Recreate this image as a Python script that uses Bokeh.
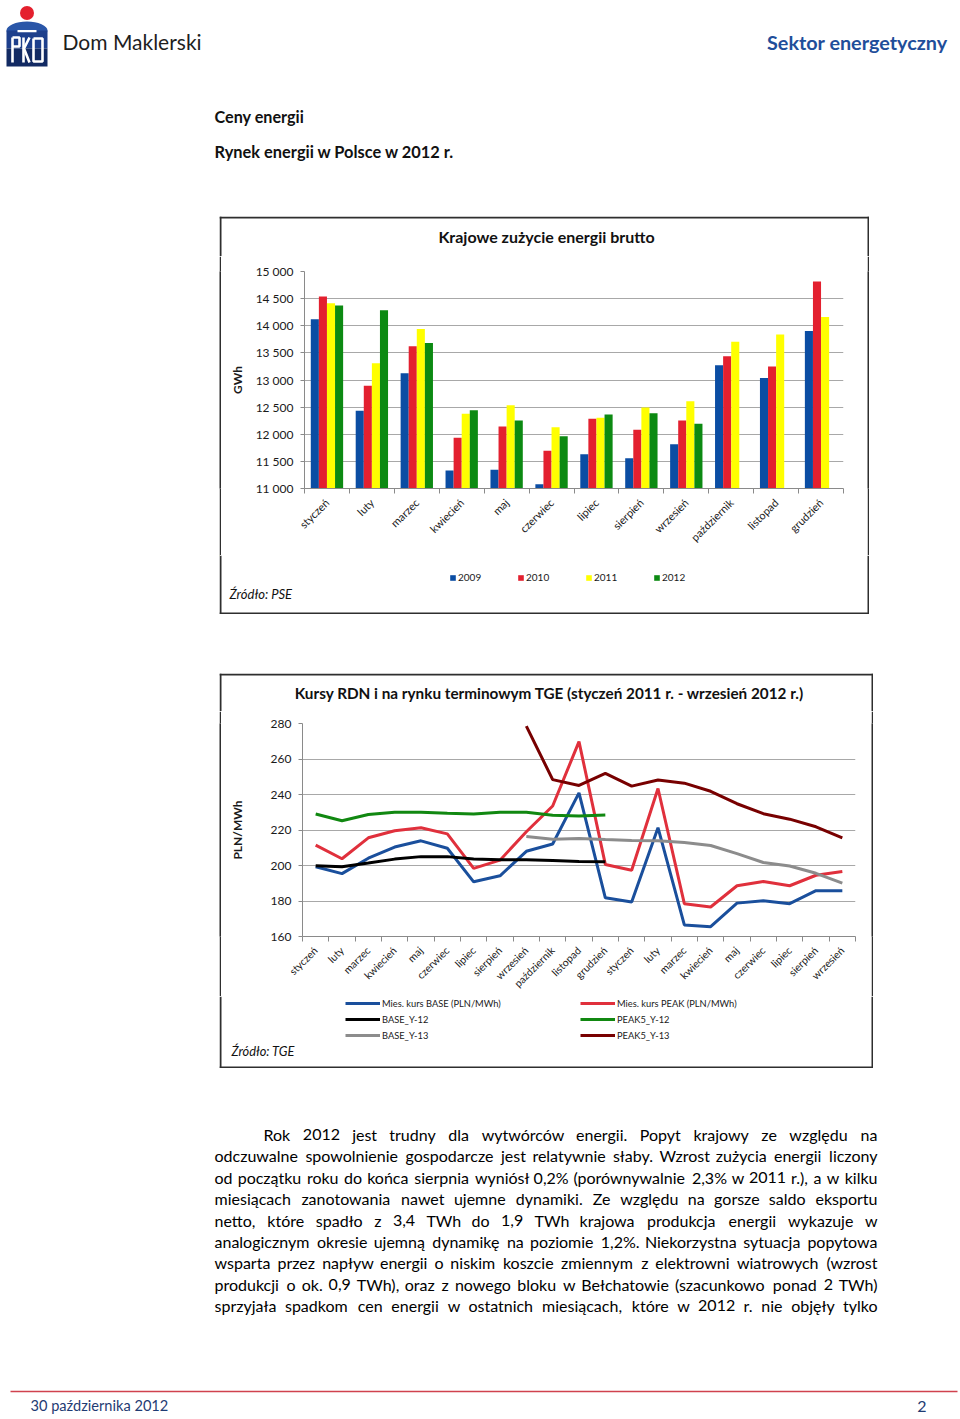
import math
from bokeh.plotting import figure
from bokeh.models import Range1d, FixedTicker, Legend, LegendItem, Spacer
from bokeh.layouts import column, row
from bokeh.core.properties import value
from bokeh.embed import file_html
from bokeh.resources import INLINE

FONT = "Lato"
BORDER = "#2e2e2e"

# ---------------- data: bar chart (GWh) ----------------
months = ["styczeń", "luty", "marzec", "kwiecień", "maj", "czerwiec", "lipiec",
          "sierpień", "wrzesień", "październik", "listopad", "grudzień"]
years = ["2009", "2010", "2011", "2012"]
gwh_2009 = [14120, 12431, 13125, 11332, 11344, 11080, 11633, 11559, 11817, 13273, 13039, 13905]
gwh_2010 = [14538, 12892, 13623, 11934, 12143, 11694, 12284, 12081, 12253, 13439, 13248, 14815]
gwh_2011 = [14415, 13310, 13942, 12376, 12536, 12130, 12302, 12493, 12609, 13703, 13838, 14163]
gwh_2012 = [14372, 14286, 13684, 12443, 12253, 11964, 12364, 12388, 12192]
bar_yticks = [11000, 11500, 12000, 12500, 13000, 13500, 14000, 14500, 15000]
bar_ytick_labels = ["11 000", "11 500", "12 000", "12 500", "13 000", "13 500", "14 000", "14 500", "15 000"]
bar_colors = ["#0b4da3", "#e3202f", "#ffff00", "#0c8a12"]

# ---------------- data: line chart (PLN/MWh) ----------------
line_periods = ["styczeń", "luty", "marzec", "kwiecień", "maj", "czerwiec", "lipiec", "sierpień",
                "wrzesień", "październik", "listopad", "grudzień", "styczeń", "luty", "marzec",
                "kwiecień", "maj", "czerwiec", "lipiec", "sierpień", "wrzesień"]
base_monthly = [199.3, 195.4, 204.1, 210.4, 213.9, 209.7, 190.8, 194.2, 208.0, 212.1, 240.9,
                181.8, 179.4, 221.3, 166.5, 165.5, 178.8, 180.1, 178.5, 185.8, 185.8]
peak_monthly = [211.5, 203.8, 215.6, 219.6, 221.3, 217.8, 198.4, 203.0, 219.0, 233.5, 269.8,
                200.6, 197.3, 243.4, 178.5, 176.6, 188.6, 191.0, 188.6, 194.5, 196.6]
base_y12 = [199.9, 199.3, 201.4, 203.6, 205.0, 205.0, 203.6, 203.2, 203.2, 202.8, 202.3, 202.1]
peak5_y12 = [229.0, 225.2, 228.7, 230.0, 230.0, 229.4, 229.0, 230.0, 230.0, 228.3, 227.9, 228.5]
base_y13 = [216.3, 214.8, 215.2, 214.6, 214.1, 213.9, 213.0, 211.3, 206.7, 201.7, 199.7, 195.6, 190.1]
peak5_y13 = [278.5, 248.4, 245.1, 251.9, 244.7, 248.2, 246.4, 241.8, 234.8, 229.2, 226.1, 221.8, 215.6]
y13_first_period = 8  # wrzesień 2011
line_names = ["Mies. kurs BASE (PLN/MWh)", "Mies. kurs PEAK (PLN/MWh)", "BASE_Y-12",
              "PEAK5_Y-12", "BASE_Y-13", "PEAK5_Y-13"]
line_colors = ["#1a4f9c", "#e0303c", "#000000", "#118811", "#8c8c8c", "#780000"]
line_yticks = [160, 180, 200, 220, 240, 260, 280]

paragraph = [
    "Rok 2012 jest trudny dla wytwórców energii. Popyt krajowy ze względu na",
    "odczuwalne spowolnienie gospodarcze jest relatywnie słaby. Wzrost zużycia energii liczony",
    "od początku roku do końca sierpnia wyniósł 0,2% (porównywalnie 2,3% w 2011 r.), a w kilku",
    "miesiącach zanotowania nawet ujemne dynamiki. Ze względu na gorsze saldo eksportu",
    "netto, które spadło z 3,4 TWh do 1,9 TWh krajowa produkcja energii wykazuje w",
    "analogicznym okresie ujemną dynamikę na poziomie 1,2%. Niekorzystna sytuacja popytowa",
    "wsparta przez napływ energii o niskim koszcie zmiennym z elektrowni wiatrowych (wzrost",
    "produkcji o ok. 0,9 TWh), oraz z nowego bloku w Bełchatowie (szacunkowo ponad 2 TWh)",
    "sprzyjała spadkom cen energii w ostatnich miesiącach, które w 2012 r. nie objęły tylko",
]

# approximate advance widths (em) used only to spread words for justified text
CW = {"a": .52, "b": .57, "c": .47, "d": .57, "e": .53, "f": .33, "g": .51, "h": .57, "i": .25,
      "j": .25, "k": .51, "l": .25, "m": .86, "n": .57, "o": .57, "p": .57, "q": .57, "r": .36,
      "s": .43, "t": .35, "u": .57, "v": .50, "w": .77, "x": .49, "y": .50, "z": .46,
      "ą": .52, "ę": .53, "ł": .27, "ó": .57, "ś": .43, "ż": .46, "ź": .46, "ć": .47, "ń": .57,
      "R": .62, "W": .95, "Z": .62, "N": .74, "T": .58, "B": .64, "P": .61,
      ",": .22, ".": .22, "%": .80, "(": .30, ")": .30, "-": .34}
for d in "0123456789":
    CW[d] = .58


def est_width(s, fs):
    return sum(CW.get(c, .6) for c in s) * fs


def base_fig(width, height, xr, yr, left=0, right=0, top=0, bottom=0):
    p = figure(width=width, height=height, x_range=xr, y_range=yr,
               output_backend="svg", toolbar_location=None,
               min_border_left=left, min_border_right=right,
               min_border_top=top, min_border_bottom=bottom)
    p.outline_line_color = None
    p.background_fill_color = "white"
    p.border_fill_color = "white"
    return p


def page_fig(width, height, x0, y0):
    p = base_fig(width, height, Range1d(x0, x0 + width), Range1d(y0 + height, y0))
    p.axis.visible = False
    p.grid.visible = False
    return p


def border_strip(width, height):
    p = base_fig(width, height, Range1d(0, 1), Range1d(0, 1))
    p.axis.visible = False
    p.grid.visible = False
    p.background_fill_color = BORDER
    p.border_fill_color = BORDER
    return p


def box_edges(p, x0, x1, y0, y1, top=False, bottom=False):
    p.quad(left=[x0, x1 - 2], right=[x0 + 2, x1], top=[y0, y0], bottom=[y1, y1],
           fill_color=BORDER, line_color=None)
    if top:
        p.quad(left=[x0], right=[x1], top=[y0], bottom=[y0 + 2], fill_color=BORDER, line_color=None)
    if bottom:
        p.quad(left=[x0], right=[x1], top=[y1 - 2], bottom=[y1], fill_color=BORDER, line_color=None)


def style_axes(p, xlabels, ylabels_map, ylabel, xfont, ylabel_standoff):
    n = len(xlabels)
    xa = p.xaxis[0]
    xa.ticker = FixedTicker(ticks=list(range(n)), minor_ticks=[i - 0.5 for i in range(n + 1)])
    xa.major_label_overrides = {i: m for i, m in enumerate(xlabels)}
    xa.major_label_orientation = math.pi / 4
    xa.major_tick_out = 0
    xa.major_tick_in = 0
    xa.minor_tick_out = 5
    xa.minor_tick_in = 0
    xa.minor_tick_line_color = "#8a8a8a"
    xa.axis_line_color = "#8a8a8a"
    xa.major_label_standoff = 7
    xa.major_label_text_font = FONT
    xa.major_label_text_font_size = xfont
    xa.major_label_text_color = "#1a1a1a"
    ya = p.yaxis[0]
    ya.ticker = FixedTicker(ticks=list(ylabels_map.keys()))
    ya.major_label_overrides = ylabels_map
    ya.minor_tick_line_color = None
    ya.major_tick_out = 4
    ya.major_tick_in = 0
    ya.major_tick_line_color = "#8a8a8a"
    ya.axis_line_color = "#8a8a8a"
    ya.major_label_standoff = 7
    ya.major_label_text_font = FONT
    ya.major_label_text_font_size = "12px"
    ya.major_label_text_color = "#1a1a1a"
    ya.axis_label = ylabel
    ya.axis_label_text_font = FONT
    ya.axis_label_text_font_size = "12px"
    ya.axis_label_text_font_style = "bold"
    ya.axis_label_text_color = "#1a1a1a"
    ya.axis_label_standoff = ylabel_standoff
    p.ygrid.ticker = ya.ticker
    p.ygrid.grid_line_color = "#a8a8a8"
    p.xgrid.visible = False


def page_text(p, x, y, text, size, **kw):
    p.text(x=[x], y=[y], text=[text], text_font=value(FONT), text_font_size=value(size),
           text_baseline="middle", **kw)


# ---------------- header ----------------
header = page_fig(960, 216, 0, 0)
header.ellipse(x=[26.5], y=[30], width=[41], height=[18], fill_color="#2a56a8", line_color=None)
header.quad(left=[6], right=[47], top=[30], bottom=[48], fill_color="#1d3f8c", line_color=None)
header.quad(left=[6], right=[47], top=[48], bottom=[66], fill_color="#122a63", line_color=None)
header.circle(x=[26.5], y=[12.5], radius=7, fill_color="#e4202e", line_color=None)
header.quad(left=[17], right=[36], top=[29.5], bottom=[31.8], fill_color="white", line_color=None)
header.multi_line(xs=[[12, 12], [12, 19, 19, 12], [23, 23], [29, 23.5, 29], [33, 42, 42, 33, 33]],
                  ys=[[37, 62], [37, 37, 46, 46], [37, 62], [37, 48, 62], [38, 38, 61, 61, 38]],
                  line_color="white", line_width=2.6)
page_text(header, 62, 41, "Dom Maklerski", "21px", text_color="#1e1e1e")
page_text(header, 947, 41, "Sektor energetyczny", "19.8px", text_font_style="bold",
          text_align="right", text_color="#1f4e9a")
page_text(header, 214, 116, "Ceny energii", "16.2px", text_font_style="bold", text_color="#111111")
page_text(header, 214, 151, "Rynek energii w Polsce w 2012 r.", "16.4px", text_font_style="bold",
          text_color="#111111")

# ---------------- bar chart box (x 219-869, y 216-614) ----------------
bar_title = page_fig(650, 40, 219, 216)
box_edges(bar_title, 219, 869, 216, 256, top=True)
page_text(bar_title, 546, 236, "Krajowe zużycie energii brutto", "16px", text_align="center",
          text_font_style="bold", text_color="#111111")

bar = base_fig(646, 299, Range1d(-0.5, len(months) - 0.5), Range1d(bar_yticks[0], bar_yticks[-1]),
               left=83, right=24, top=15, bottom=67)
bw = 0.18
bar_series = [gwh_2009, gwh_2010, gwh_2011, gwh_2012]
for k, (vals, col) in enumerate(zip(bar_series, bar_colors)):
    xs = [i + (k - (len(years) - 1) / 2) * bw for i in range(len(vals))]
    bar.vbar(x=xs, top=vals, bottom=bar_yticks[0], width=bw, fill_color=col, line_color=None)
style_axes(bar, months, dict(zip(bar_yticks, bar_ytick_labels)), "GWh", "11px", 8)

bar_foot = page_fig(650, 59, 219, 555)
box_edges(bar_foot, 219, 869, 555, 614, bottom=True)
# legend keys: one off-screen sample each, only so that the legend has glyphs to draw
bar_keys = [bar_foot.vbar(x=[0], top=[0], bottom=[-1], width=0.5, fill_color=c, line_color=None)
            for c in bar_colors]
bar_foot.add_layout(Legend(
    items=[LegendItem(label=y, renderers=[r]) for y, r in zip(years, bar_keys)],
    orientation="horizontal", location=(230, 31), glyph_width=7, glyph_height=7,
    label_standoff=2, label_width=49, label_height=12, spacing=10, padding=0, margin=0,
    border_line_color=None, background_fill_alpha=0,
    label_text_font=FONT, label_text_font_size="10px", label_text_color="#1a1a1a"))
page_text(bar_foot, 229, 593, "Źródło: PSE", "13px", text_font_style="italic", text_color="#111111")

bar_box = column(bar_title, row(border_strip(2, 299), bar, border_strip(2, 299)), bar_foot)

# ---------------- line chart box (x 219-873, y 673-1068) ----------------
line_title = page_fig(654, 38, 219, 673)
box_edges(line_title, 219, 873, 673, 711, top=True)
page_text(line_title, 549, 692, "Kursy RDN i na rynku terminowym TGE (styczeń 2011 r. - wrzesień 2012 r.)",
          "15.3px", text_align="center", text_font_style="bold", text_color="#111111")

lp = base_fig(650, 285, Range1d(-0.5, len(line_periods) - 0.5), Range1d(line_yticks[0], line_yticks[-1]),
              left=81, right=16, top=12, bottom=56)
idx = list(range(len(line_periods)))
series = [
    (idx, base_monthly),
    (idx, peak_monthly),
    (idx[:len(base_y12)], base_y12),
    (idx[:len(peak5_y12)], peak5_y12),
    (idx[y13_first_period:], base_y13),
    (idx[y13_first_period:], peak5_y13),
]
for (xs, ys), col in zip(series, line_colors):
    lp.line(xs, ys, line_color=col, line_width=3)
style_axes(lp, line_periods, {t: str(t) for t in line_yticks}, "PLN/MWh", "10.5px", 23)

line_foot = page_fig(654, 72, 219, 996)
box_edges(line_foot, 219, 873, 996, 1068, bottom=True)
line_keys = [line_foot.line(x=[0, 1], y=[0, 0], line_color=c, line_width=3) for c in line_colors]
line_foot.add_layout(Legend(
    items=[LegendItem(label=n, renderers=[r]) for n, r in zip(line_names, line_keys)],
    orientation="horizontal", ncols=2, location=(126, 27), glyph_width=35, glyph_height=12,
    label_standoff=2, label_width=194, label_height=12, spacing=4, padding=0, margin=0,
    border_line_color=None, background_fill_alpha=0,
    label_text_font=FONT, label_text_font_size="9.3px", label_text_color="#1a1a1a"))
page_text(line_foot, 231, 1050, "Źródło: TGE", "12.8px", text_font_style="italic", text_color="#111111")

line_box = column(line_title, row(border_strip(2, 285), lp, border_strip(2, 285)), line_foot)

# ---------------- text + footer ----------------
footer = page_fig(960, 349, 0, 1068)
FS = 16
para_right = 877
lx, ly, lt, rx, ry, rt = [], [], [], [], [], []
for li, line in enumerate(paragraph):
    left = 263 if li == 0 else 214
    y = 1134 + 21.4 * li
    words = line.split(" ")
    wpx = [est_width(w, FS) for w in words]
    gap = (para_right - left - sum(wpx)) / (len(words) - 1)
    x = left
    for i, w in enumerate(words):
        if i == len(words) - 1:
            rx.append(para_right); ry.append(y); rt.append(w)
        else:
            lx.append(x); ly.append(y); lt.append(w)
        x += wpx[i] + gap
footer.text(x=lx, y=ly, text=lt, text_font=value(FONT), text_font_size=value(f"{FS}px"),
            text_baseline="middle", text_color="#000000")
footer.text(x=rx, y=ry, text=rt, text_font=value(FONT), text_font_size=value(f"{FS}px"),
            text_baseline="middle", text_align="right", text_color="#000000")
footer.line(x=[10, 957], y=[1391, 1391], line_color="#d0424e", line_width=1.5)
page_text(footer, 30, 1405, "30 października  2012", "14.6px", text_color="#1f3b73")
page_text(footer, 926, 1406, "2", "16px", text_align="right", text_color="#1f3b73")

layout = column(
    header,
    row(Spacer(width=219, height=398), bar_box),
    Spacer(width=960, height=59),
    row(Spacer(width=219, height=395), line_box),
    footer,
)

open("out.html", "w").write(file_html(layout, INLINE))
